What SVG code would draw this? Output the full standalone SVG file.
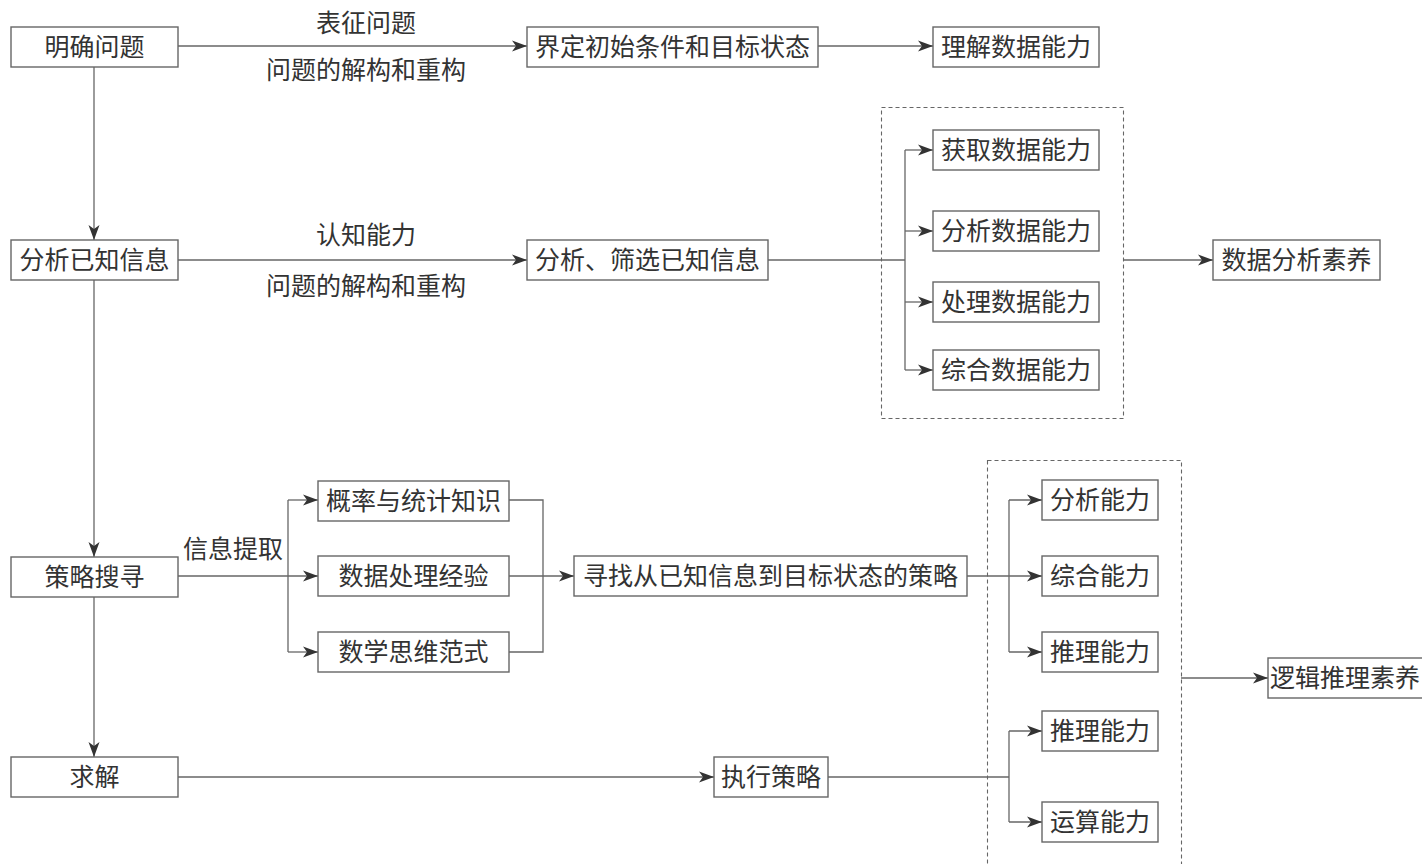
<svg xmlns="http://www.w3.org/2000/svg" width="1422" height="864" viewBox="0 0 1422 864">
<style>
.box{fill:#fff;stroke:#666;stroke-width:1.4}
.t{font-family:"Liberation Serif","Noto Sans CJK SC",serif;font-size:25px;fill:#333;text-anchor:middle;dominant-baseline:central}
.ln{fill:none;stroke:#666;stroke-width:1.3}
.dash{fill:none;stroke:#666;stroke-width:1.1;stroke-dasharray:4 3}
</style>
<defs>
<marker id="arr" markerUnits="userSpaceOnUse" markerWidth="16" markerHeight="12" refX="15" refY="6" orient="auto">
<path d="M0,0.5 L15,6 L0,11.5 L4,6 z" fill="#333"/>
</marker>
</defs>
<rect x="0" y="0" width="1422" height="864" fill="#fff"/>
<g id="groups">
<rect class="dash" x="881.5" y="107.5" width="242" height="311"/>
<rect class="dash" x="987.5" y="460.5" width="194" height="410"/>
</g>
<g id="connectors">
<line class="ln" x1="178" y1="46" x2="527" y2="46" marker-end="url(#arr)"/>
<line class="ln" x1="818" y1="46" x2="933" y2="46" marker-end="url(#arr)"/>
<line class="ln" x1="94" y1="67" x2="94" y2="240" marker-end="url(#arr)"/>
<line class="ln" x1="178" y1="260" x2="527" y2="260" marker-end="url(#arr)"/>
<polyline class="ln" points="768,260 905,260"/>
<line class="ln" x1="905" y1="150" x2="905" y2="370"/>
<line class="ln" x1="905" y1="150" x2="933" y2="150" marker-end="url(#arr)"/>
<line class="ln" x1="905" y1="231" x2="933" y2="231" marker-end="url(#arr)"/>
<line class="ln" x1="905" y1="302" x2="933" y2="302" marker-end="url(#arr)"/>
<line class="ln" x1="905" y1="370" x2="933" y2="370" marker-end="url(#arr)"/>
<line class="ln" x1="1123" y1="260" x2="1213" y2="260" marker-end="url(#arr)"/>
<line class="ln" x1="94" y1="280" x2="94" y2="557" marker-end="url(#arr)"/>
<line class="ln" x1="178" y1="576" x2="318" y2="576" marker-end="url(#arr)"/>
<line class="ln" x1="288" y1="500" x2="288" y2="652"/>
<line class="ln" x1="288" y1="500" x2="318" y2="500" marker-end="url(#arr)"/>
<line class="ln" x1="288" y1="652" x2="318" y2="652" marker-end="url(#arr)"/>
<polyline class="ln" points="509,500 543,500 543,652 509,652"/>
<line class="ln" x1="509" y1="576" x2="574" y2="576" marker-end="url(#arr)"/>
<line class="ln" x1="967" y1="576" x2="1042" y2="576" marker-end="url(#arr)"/>
<line class="ln" x1="1009" y1="500" x2="1009" y2="652"/>
<line class="ln" x1="1009" y1="500" x2="1042" y2="500" marker-end="url(#arr)"/>
<line class="ln" x1="1009" y1="652" x2="1042" y2="652" marker-end="url(#arr)"/>
<line class="ln" x1="1181" y1="678" x2="1268" y2="678" marker-end="url(#arr)"/>
<line class="ln" x1="94" y1="597" x2="94" y2="757" marker-end="url(#arr)"/>
<line class="ln" x1="178" y1="777" x2="714" y2="777" marker-end="url(#arr)"/>
<line class="ln" x1="828" y1="777" x2="1009" y2="777"/>
<line class="ln" x1="1009" y1="731" x2="1009" y2="822"/>
<line class="ln" x1="1009" y1="731" x2="1042" y2="731" marker-end="url(#arr)"/>
<line class="ln" x1="1009" y1="822" x2="1042" y2="822" marker-end="url(#arr)"/>
</g>
<g id="labels">
<text class="t" x="366" y="23">表征问题</text>
<text class="t" x="366" y="70">问题的解构和重构</text>
<text class="t" x="366" y="235">认知能力</text>
<text class="t" x="366" y="286">问题的解构和重构</text>
<text class="t" x="233" y="549">信息提取</text>
</g>
<g id="n1"><rect class="box" x="11" y="27" width="167" height="40"/><text class="t" x="94.5" y="47">明确问题</text></g>
<g id="n2"><rect class="box" x="527" y="27" width="291" height="40"/><text class="t" x="672.5" y="47">界定初始条件和目标状态</text></g>
<g id="n3"><rect class="box" x="933" y="27" width="166" height="40"/><text class="t" x="1016" y="47">理解数据能力</text></g>
<g id="n4"><rect class="box" x="11" y="240" width="167" height="40"/><text class="t" x="94.5" y="260">分析已知信息</text></g>
<g id="n5"><rect class="box" x="527" y="240" width="241" height="40"/><text class="t" x="647.5" y="260">分析、筛选已知信息</text></g>
<g id="n6"><rect class="box" x="933" y="130" width="166" height="40"/><text class="t" x="1016" y="150">获取数据能力</text></g>
<g id="n7"><rect class="box" x="933" y="211" width="166" height="40"/><text class="t" x="1016" y="231">分析数据能力</text></g>
<g id="n8"><rect class="box" x="933" y="282" width="166" height="40"/><text class="t" x="1016" y="302">处理数据能力</text></g>
<g id="n9"><rect class="box" x="933" y="350" width="166" height="40"/><text class="t" x="1016" y="370">综合数据能力</text></g>
<g id="n10"><rect class="box" x="1213" y="240" width="167" height="40"/><text class="t" x="1296.5" y="260">数据分析素养</text></g>
<g id="n11"><rect class="box" x="11" y="557" width="167" height="40"/><text class="t" x="94.5" y="577">策略搜寻</text></g>
<g id="n12"><rect class="box" x="318" y="481" width="191" height="40"/><text class="t" x="413.5" y="501">概率与统计知识</text></g>
<g id="n13"><rect class="box" x="318" y="556" width="191" height="40"/><text class="t" x="413.5" y="576">数据处理经验</text></g>
<g id="n14"><rect class="box" x="318" y="632" width="191" height="40"/><text class="t" x="413.5" y="652">数学思维范式</text></g>
<g id="n15"><rect class="box" x="574" y="556" width="393" height="40"/><text class="t" x="770.5" y="576">寻找从已知信息到目标状态的策略</text></g>
<g id="n16"><rect class="box" x="1042" y="480" width="116" height="40"/><text class="t" x="1100" y="500">分析能力</text></g>
<g id="n17"><rect class="box" x="1042" y="556" width="116" height="40"/><text class="t" x="1100" y="576">综合能力</text></g>
<g id="n18"><rect class="box" x="1042" y="632" width="116" height="40"/><text class="t" x="1100" y="652">推理能力</text></g>
<g id="n19"><rect class="box" x="1268" y="658" width="170" height="40"/><text class="t" x="1345" y="678" font-size="24">逻辑推理素养</text></g>
<g id="n20"><rect class="box" x="1042" y="711" width="116" height="40"/><text class="t" x="1100" y="731">推理能力</text></g>
<g id="n21"><rect class="box" x="1042" y="802" width="116" height="40"/><text class="t" x="1100" y="822">运算能力</text></g>
<g id="n22"><rect class="box" x="11" y="757" width="167" height="40"/><text class="t" x="94.5" y="777">求解</text></g>
<g id="n23"><rect class="box" x="714" y="757" width="114" height="40"/><text class="t" x="771" y="777">执行策略</text></g>
</svg>
